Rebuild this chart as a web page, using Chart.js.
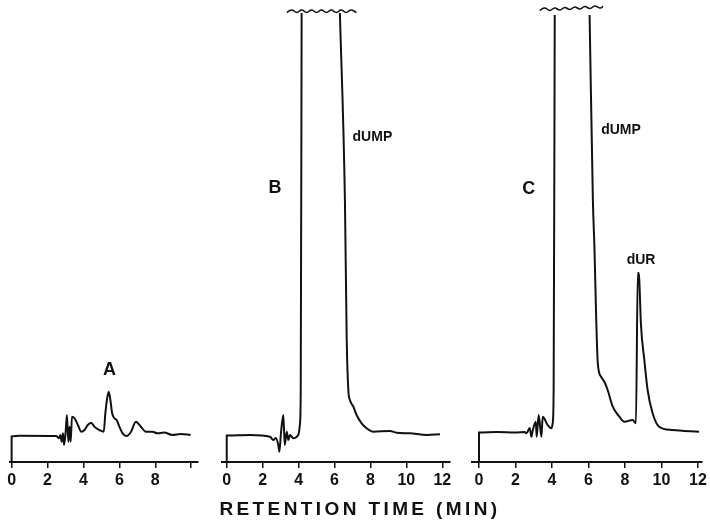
<!DOCTYPE html>
<html>
<head>
<meta charset="utf-8">
<script src="https://cdn.jsdelivr.net/npm/chart.js@4/dist/chart.umd.min.js"></script>
<style>
  html, body { margin:0; padding:0; background:#fff; }
  #wrap { position:relative; width:710px; height:523px; overflow:hidden; }
  canvas { position:absolute; left:0; top:0; }
  #xtitle { position:absolute; left:160px; width:400px; top:499px; text-align:center;
            font-family:"Liberation Sans", Arial, sans-serif; font-weight:bold; font-size:19px;
            line-height:19px; letter-spacing:3.4px; color:#111; }
</style>
</head>
<body>
<div id="wrap">
  <canvas id="cA" width="710" height="523"></canvas>
  <canvas id="cB" width="710" height="523"></canvas>
  <canvas id="cC" width="710" height="523"></canvas>
  <div id="xtitle">RETENTION TIME (MIN)</div>
</div>
<script>
// ---------- data (retention time in min, detector signal in arbitrary units) ----------
const timeA   = [0, 0, 0.46, 2.49, 2.64, 2.71, 2.79, 2.86, 2.92, 3.01, 3.08, 3.16, 3.23, 3.29, 3.36, 3.51, 3.69, 3.88, 4.06, 4.24, 4.43, 4.61, 4.89, 5.13, 5.22, 5.32, 5.41, 5.5, 5.6, 5.72, 5.85, 6.0, 6.18, 6.4, 6.65, 6.92, 7.2, 7.48, 7.84, 8.12, 8.5, 8.95, 9.42, 9.97];
const signalA = [0, 2.55, 2.63, 2.6, 2.37, 2.7, 2.03, 2.87, 1.7, 3.03, 4.7, 2.03, 3.53, 2.03, 4.53, 4.37, 3.7, 3.03, 3.2, 3.7, 3.93, 3.53, 3.2, 3.03, 4.87, 6.37, 7.03, 6.2, 4.87, 4.37, 4.2, 3.53, 2.87, 2.6, 3.03, 4.03, 3.53, 3.03, 3.03, 2.87, 2.95, 2.7, 2.8, 2.7];

const timeB   = [0, 0, 1.3, 2.41, 2.59, 2.74, 2.87, 2.93, 3.02, 3.15, 3.23, 3.34, 3.43, 3.52, 3.71, 3.98, 4.08, 4.12, 4.17, 5.2, 6.3, 6.58, 6.68, 6.77, 6.86, 7.05, 7.23, 7.51, 7.79, 8.16, 9.09, 9.46, 10.2, 11.13, 11.87];
const signalB = [0, 2.65, 2.7, 2.53, 2.2, 2.4, 1.7, 1.03, 2.9, 4.7, 1.7, 3.03, 2.2, 2.7, 2.37, 2.7, 3.9, 7.2, 44.9, null, 44.9, 26.2, 12.2, 7.2, 6.2, 5.53, 4.7, 3.87, 3.37, 3.03, 3.1, 2.93, 2.87, 2.7, 2.77];

const timeC   = [0, 0, 1.0, 2.0, 2.5, 2.6, 2.78, 2.87, 2.95, 3.11, 3.16, 3.27, 3.42, 3.49, 3.76, 3.97, 4.04, 4.09, 4.15, 5.1, 6.06, 6.24, 6.33, 6.42, 6.51, 6.69, 6.87, 7.05, 7.33, 7.69, 7.97, 8.42, 8.6, 8.7, 8.76, 8.8, 8.87, 9.06, 9.24, 9.51, 9.87, 10.58, 12.06];
const signalC = [0, 2.95, 3.0, 2.95, 3.0, 2.87, 3.4, 2.53, 3.2, 4.03, 2.53, 4.7, 2.53, 4.53, 3.7, 3.37, 3.9, 7.2, 44.7, null, 44.7, 26.2, 21.2, 14.5, 9.87, 8.53, 8.03, 7.2, 5.53, 4.53, 4.03, 4.2, 3.87, 18.9, 18.9, 17.5, 13.9, 10.2, 7.2, 4.9, 3.53, 3.2, 3.03];

// off-scale break marks at top of the off-scale dUMP peaks
const breakTimeB   = [3.35, 3.62, 3.9, 4.17, 4.45, 4.72, 5.0, 5.27, 5.55, 5.82, 6.1, 6.37, 6.65, 6.92, 7.22];
const breakSignalB = [44.95, 45.2, 44.95, 45.2, 44.95, 45.2, 44.95, 45.2, 44.95, 45.2, 44.95, 45.2, 44.95, 45.2, 44.95];
const breakTimeC   = [3.33, 3.6, 3.88, 4.15, 4.43, 4.7, 4.98, 5.25, 5.53, 5.8, 6.08, 6.35, 6.62, 6.8];
const breakSignalC = [45.15, 45.4, 45.15, 45.4, 45.2, 45.45, 45.25, 45.5, 45.3, 45.55, 45.35, 45.6, 45.4, 45.55];

// x-axis ticks
const tickStep = 2;
const tickLabelsA = ["0", "2", "4", "6", "8", ""];
const tickLabelsBC = ["0", "2", "4", "6", "8", "10", "12"];

// panel annotations: [text, time, signal, fontSize]
const labelsA = [["A", 5.45, 9.2, 18]];
const labelsB = [["B", 2.69, 27.4, 18], ["dUMP", 8.11, 32.5, 14]];
const labelsC = [["C", 2.73, 27.3, 18], ["dUMP", 7.78, 33.2, 14], ["dUR", 8.88, 20.2, 14]];

// ---------- drawing ----------
const FONT = '"Liberation Sans", Arial, sans-serif';
const INK = '#111';

const annotPlugin = {
  id: 'annot',
  afterDatasetsDraw(chart, args, opts) {
    const ctx = chart.ctx, xs = chart.scales.x, ys = chart.scales.y;
    ctx.save();
    ctx.fillStyle = INK;
    ctx.textAlign = 'center';
    ctx.textBaseline = 'middle';
    for (const [t, x, y, s] of (opts.items || [])) {
      ctx.font = 'bold ' + s + 'px ' + FONT;
      ctx.fillText(t, xs.getPixelForValue(x), ys.getPixelForValue(y));
    }
    ctx.restore();
  }
};

function pts(tt, vv) { return tt.map((t, i) => ({x: t, y: vv[i]})); }

function makePanel(id, padL, padR, xmin, xmax, xmaxTick, series, breaks, tickLabels, labels) {
  const datasets = [{
    data: pts(series[0], series[1]),
    borderColor: INK, borderWidth: 2, pointRadius: 0,
    cubicInterpolationMode: 'monotone', spanGaps: false
  }];
  if (breaks) {
    datasets.push({
      data: pts(breaks[0], breaks[1]),
      borderColor: INK, borderWidth: 1.6, pointRadius: 0, tension: 0.45
    });
  }
  new Chart(document.getElementById(id), {
    type: 'line',
    data: { datasets },
    plugins: [annotPlugin],
    options: {
      responsive: false, animation: false,
      layout: { padding: { left: padL, right: padR, top: 2, bottom: 31 } },
      plugins: { legend: { display: false }, tooltip: { enabled: false }, annot: { items: labels } },
      scales: {
        x: {
          type: 'linear', min: xmin, max: xmax,
          afterFit: s => { s.height = 30; },
          border: { display: true, color: INK, width: 2 },
          grid: { drawOnChartArea: false, drawTicks: true, tickLength: 6, color: INK, lineWidth: 1.5 },
          afterBuildTicks: s => { s.ticks = s.ticks.filter(t => t.value >= 0 && t.value <= xmaxTick); },
          ticks: {
            stepSize: tickStep, includeBounds: false, autoSkip: false, maxRotation: 0, padding: 3,
            color: INK, font: { family: FONT, size: 16, weight: 'bold' },
            callback: (v) => { const i = Math.round(v / tickStep); return tickLabels[i] ?? ''; }
          }
        },
        y: { display: false, min: 0, max: 46 }
      }
    }
  });
}

makePanel('cA', 10, 711 - 199, -0.09, 10.38, 10, [timeA, signalA], null, tickLabelsA, labelsA);
makePanel('cB', 221.7, 710 - 450, -0.28, 12.43, 12, [timeB, signalB], [breakTimeB, breakSignalB], tickLabelsBC, labelsB);
makePanel('cC', 471.7, 7, -0.4, 12.2, 12, [timeC, signalC], [breakTimeC, breakSignalC], tickLabelsBC, labelsC);
</script>
</body>
</html>
